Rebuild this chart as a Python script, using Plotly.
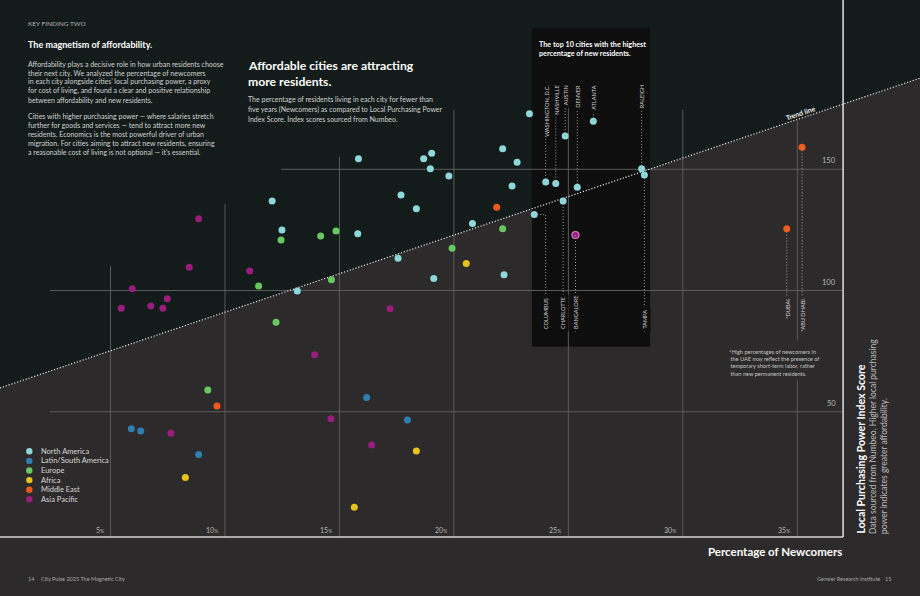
import plotly.graph_objects as go

W, H = 920, 596

# ---------------- data ----------------
regions = ["North America", "Latin/South America", "Europe", "Africa", "Middle East", "Asia Pacific"]
region_colors = ["#8ed8da", "#2e7fb0", "#67c862", "#e6c319", "#ef5a1c", "#9a1c7d"]

na_x = [12.06, 12.49, 13.16, 15.83, 15.80, 17.56, 17.69, 18.36, 18.68, 19.03, 18.97, 19.78, 19.12, 20.81,
        22.13, 22.19, 22.76, 22.54, 23.30, 23.51, 24.01, 24.45, 24.86, 24.77, 25.39, 26.09, 28.20, 28.32]
na_y = [136.9, 125.0, 99.8, 154.4, 123.4, 113.3, 139.4, 133.7, 154.4, 156.6, 150.2, 147.2, 105.0, 127.6,
        158.5, 106.5, 152.9, 143.1, 172.9, 131.3, 144.8, 144.1, 163.7, 136.9, 142.6, 169.8, 150.2, 147.6]
na_names = ["", "", "", "", "", "", "", "", "", "", "", "", "", "",
            "", "", "", "", "", "COLUMBUS", "WASHINGTON, D.C.", "NASHVILLE", "AUSTIN", "CHARLOTTE",
            "DENVER", "ATLANTA", "RALEIGH", "TAMPA"]

la_x = [5.91, 6.32, 8.85, 16.19, 17.97]
la_y = [43.0, 42.0, 32.3, 55.9, 46.6]
la_names = ["", "", "", "", ""]

eu_x = [9.25, 11.47, 12.23, 12.45, 14.18, 14.85, 14.65, 19.92, 22.13]
eu_y = [59.0, 101.9, 86.9, 120.8, 122.5, 124.5, 104.4, 117.4, 125.5]
eu_names = [""] * 9

af_x = [8.27, 15.65, 18.36, 20.54]
af_y = [22.9, 10.6, 33.8, 111.1]
af_names = ["", "", "", ""]

me_x = [9.65, 21.87, 34.54, 35.21]
me_y = [52.4, 134.3, 125.5, 159.1]
me_names = ["", "", "*DUBAI", "*ABU DHABI"]

ap_x = [5.47, 5.95, 6.76, 7.29, 7.48, 8.44, 8.85, 11.08, 13.92, 14.63, 16.41, 17.21, 7.64, 25.31]
ap_y = [92.7, 100.7, 93.6, 92.7, 96.6, 109.6, 129.6, 108.0, 73.5, 47.1, 36.3, 92.5, 41.1, 122.9]
ap_names = ["", "", "", "", "", "", "", "", "", "", "", "", "", "BANGALORE"]

series_x = [na_x, la_x, eu_x, af_x, me_x, ap_x]
series_y = [na_y, la_y, eu_y, af_y, me_y, ap_y]
series_names = [na_names, la_names, eu_names, af_names, me_names, ap_names]

trend_intercept = 59.25
trend_slope = 3.18

x_ticks = [5, 10, 15, 20, 25, 30, 35]
x_tick_labels = ["5", "10", "15", "20", "25", "30", "35"]
y_ticks = [50, 100, 150]
y_tick_labels = ["50", "100", "150"]

top_labels = ["WASHINGTON, D.C.", "NASHVILLE", "AUSTIN", "DENVER", "ATLANTA", "RALEIGH"]
bottom_labels = ["COLUMBUS", "CHARLOTTE", "BANGALORE", "TAMPA"]
uae_labels = ["*DUBAI", "*ABU DHABI"]

# ---------------- layout constants ----------------
X_RANGE = [0.173, 40.36]
Y_RANGE = [-26.03, 219.84]
AXIS_X_END = 37.0
AXIS_Y_BASE = -1.7
BOX = dict(x0=23.41, x1=28.57, y0=76.8, y1=208.4)
LABEL_TOP_Y = 186.0
LABEL_BOTTOM_Y = 82.9
UAE_LABEL_TOP_Y = 97.3
COLUMBUS_LABEL_X = 24.01
vgrid_top = {5: 110.1, 10: 135.7, 15: 155.2, 20: 174.5, 25: 175.2, 30: 174.5, 35: 170.0}
hgrid_start = {50: 2.36, 100: 2.36, 150: 12.45}
GAP35 = (63.0, 79.5)

GREEN_BG = "#131c1a"
GRAY_BG = "#2d2a2b"
BOX_BG = "#0e0e0e"
GRID = "#5a5a5a"
FONT = "Lato"


def px(p):
    return p / W


def py(p):
    return 1 - p / H


def trend(x):
    return trend_intercept + trend_slope * x


fig = go.Figure()

shapes = []
x0, x1 = X_RANGE
y_top = Y_RANGE[1]
shapes.append(dict(type="path", xref="x", yref="y", layer="below",
                   path=f"M {x0},{y_top} L {x1},{y_top} L {x1},{trend(x1)} L {x0},{trend(x0)} Z",
                   fillcolor=GREEN_BG, line=dict(width=0)))
shapes.append(dict(type="rect", xref="x", yref="y", layer="below", fillcolor=BOX_BG, line=dict(width=0), **BOX))
for t in x_ticks:
    if t == 35:
        shapes.append(dict(type="line", xref="x", yref="y", layer="below", x0=t, x1=t, y0=vgrid_top[t], y1=GAP35[1],
                           line=dict(color=GRID, width=1)))
        shapes.append(dict(type="line", xref="x", yref="y", layer="below", x0=t, x1=t, y0=GAP35[0], y1=AXIS_Y_BASE,
                           line=dict(color=GRID, width=1)))
    else:
        shapes.append(dict(type="line", xref="x", yref="y", layer="below", x0=t, x1=t, y0=vgrid_top[t], y1=AXIS_Y_BASE,
                           line=dict(color=GRID, width=1)))
for t in y_ticks:
    shapes.append(dict(type="line", xref="x", yref="y", layer="below", x0=hgrid_start[t], x1=AXIS_X_END, y0=t, y1=t,
                       line=dict(color=GRID, width=1)))
shapes.append(dict(type="line", xref="x", yref="y", layer="below", x0=X_RANGE[0], x1=AXIS_X_END,
                   y0=AXIS_Y_BASE, y1=AXIS_Y_BASE, line=dict(color="#d6d6d6", width=1.6)))
shapes.append(dict(type="line", xref="x", yref="y", layer="below", x0=AXIS_X_END, x1=AXIS_X_END,
                   y0=AXIS_Y_BASE, y1=Y_RANGE[1], line=dict(color="#d6d6d6", width=1.6)))

annotations = []

lead = dict(color="#a0a0a0", width=1, dash="1px,2px")
lab_font = dict(family=FONT, size=5.6, color="#d0d0d0")
for xs, ys, names in zip(series_x, series_y, series_names):
    for x, y, n in zip(xs, ys, names):
        if not n:
            continue
        if n in top_labels:
            shapes.append(dict(type="line", xref="x", yref="y", x0=x, x1=x, y0=y, y1=LABEL_TOP_Y, line=lead))
            annotations.append(dict(x=x, y=LABEL_TOP_Y, xref="x", yref="y", text=n, showarrow=False, textangle=-90,
                                    xanchor="center", yanchor="top", bgcolor=BOX_BG, borderpad=2, font=lab_font))
        elif n in bottom_labels:
            lx = COLUMBUS_LABEL_X if n == "COLUMBUS" else x
            shapes.append(dict(type="path", xref="x", yref="y",
                               path=f"M {x},{y} L {lx},{y} L {lx},{LABEL_BOTTOM_Y}", line=lead))
            annotations.append(dict(x=lx, y=LABEL_BOTTOM_Y, xref="x", yref="y", text=n, showarrow=False, textangle=-90,
                                    xanchor="center", yanchor="bottom", bgcolor=BOX_BG, borderpad=2, font=lab_font))
        elif n in uae_labels:
            shapes.append(dict(type="line", xref="x", yref="y", x0=x, x1=x, y0=y, y1=UAE_LABEL_TOP_Y, line=lead))
            annotations.append(dict(x=x, y=UAE_LABEL_TOP_Y, xref="x", yref="y", text=n, showarrow=False, textangle=-90,
                                    xanchor="center", yanchor="top", borderpad=1, font=lab_font))

fig.add_trace(go.Scatter(x=X_RANGE, y=[trend(X_RANGE[0]), trend(X_RANGE[1])], mode="lines",
                         line=dict(color="#e8e8e8", width=1.2, dash="1.2px,1.8px"), hoverinfo="skip",
                         showlegend=False, name="Trend line"))

for reg, col, xs, ys, names in zip(regions, region_colors, series_x, series_y, series_names):
    lw = [1.2 if n == "BANGALORE" else 0 for n in names]
    fig.add_trace(go.Scatter(x=xs, y=ys, mode="markers", name=reg, text=names, showlegend=False,
                             marker=dict(size=7, color=col, line=dict(width=lw, color="#e07cc4")),
                             hovertemplate="%{x:.1f}%, %{y:.1f}<extra>" + reg + "</extra>"))

annotations.append(dict(x=35.12, y=173.4, xref="x", yref="y", text="<b>Trend line</b>", showarrow=False,
                        textangle=-18.6, font=dict(family=FONT, size=7, color="#f0f0f0")))

for t, lab in zip(x_ticks, x_tick_labels):
    annotations.append(dict(x=t, y=1.2, xref="x", yref="y", xanchor="right", yanchor="middle", xshift=-5,
                            text=lab + "<span style='font-size:5px'>%</span>", showarrow=False,
                            font=dict(family=FONT, size=7, color="#b8b8b8")))
for t, lab in zip(y_ticks, y_tick_labels):
    annotations.append(dict(x=AXIS_X_END, y=t, xref="x", yref="y", xanchor="right", yanchor="bottom", xshift=-5,
                            yshift=2, text=lab, showarrow=False, font=dict(family=FONT, size=7.5, color="#b8b8b8")))


def text(x, y, s, size, color="#d4d4d4", bold=False, xanchor="left", yanchor="middle", angle=0, family=FONT,
         align="left"):
    annotations.append(dict(x=px(x), y=py(y), xref="paper", yref="paper", text=f"<b>{s}</b>" if bold else s,
                            showarrow=False, xanchor=xanchor, yanchor=yanchor, textangle=angle, align=align,
                            borderpad=0, font=dict(family=family, size=size, color=color)))


text(27, 24, "KEY FINDING TWO", 6.5, "#b4b4b4")
text(27, 44, "The magnetism of affordability.", 9, "#ffffff", bold=True)
p1 = ["Affordability plays a decisive role in how urban residents choose",
      "their next city. We analyzed the percentage of newcomers",
      "in each city alongside cities\u2019 local purchasing power, a proxy",
      "for cost of living, and found a clear and positive relationship",
      "between affordability and new residents."]
for i, s in enumerate(p1):
    text(27, 64 + 9 * i, s, 7, "#d2d2d2")
p2 = ["Cities with higher purchasing power \u2014 where salaries stretch",
      "further for goods and services \u2014 tend to attract more new",
      "residents. Economics is the most powerful driver of urban",
      "migration. For cities aiming to attract new residents, ensuring",
      "a reasonable cost of living is not optional \u2014 it\u2019s essential."]
for i, s in enumerate(p2):
    text(27, 116.3 + 9 * i, s, 7, "#d2d2d2")

text(247, 65.8, "Affordable cities are attracting", 12.2, "#ffffff", bold=True)
text(247, 81.0, "more residents.", 12.2, "#ffffff", bold=True)
sub = ["The percentage of residents living in each city for fewer than",
       "five years (Newcomers) as compared to Local Purchasing Power",
       "Index Score. Index scores sourced from Numbeo."]
for i, s in enumerate(sub):
    text(247, 99.3 + 9.8 * i, s, 7, "#d2d2d2")

text(538, 44, "The top 10 cities with the highest", 7.2, "#ffffff", bold=True)
text(538, 53, "percentage of new residents.", 7.2, "#ffffff", bold=True)

foot = ["*High percentages of newcomers in", "&nbsp;the UAE may reflect the presence of",
        "&nbsp;temporary short-term labor, rather", "&nbsp;than new permanent residents."]
for i, s in enumerate(foot):
    text(728, 351 + 7.4 * i, s, 5.6, "#c4c4c4")

leg_y0 = 451.3
for i, (reg, col) in enumerate(zip(regions, region_colors)):
    yy = leg_y0 + 9.6 * i
    shapes.append(dict(type="circle", xref="paper", yref="paper", xsizemode="pixel", ysizemode="pixel",
                       xanchor=px(29.3), yanchor=py(yy), x0=-3.2, x1=3.2, y0=-3.2, y1=3.2,
                       fillcolor=col, line=dict(width=0)))
    text(40, yy, reg, 7.5, "#d8d8d8")

text(843, 551, "Percentage of Newcomers", 11.5, "#ffffff", bold=True, xanchor="right")
text(860, 535, "Local Purchasing Power Index Score", 10.6, "#ffffff", bold=True, yanchor="bottom",
     xanchor="center", angle=-90)
text(878.5, 535, "Data sourced from Numbeo. Higher local purchasing<br>power indicates greater affordability.", 8.5,
     "#bcbcbc", yanchor="bottom", xanchor="center", angle=-90)

text(27, 579, "14", 5.5, "#a8a8a8")
text(40, 579, "City Pulse 2025 The Magnetic City", 5.5, "#a8a8a8")
text(881, 579, "Gensler Research Institute", 5.5, "#a8a8a8", xanchor="right")
text(892, 579, "15", 5.5, "#a8a8a8", xanchor="right")

fig.update_layout(
    width=W, height=H, margin=dict(l=0, r=0, t=0, b=0),
    paper_bgcolor=GRAY_BG, plot_bgcolor="rgba(0,0,0,0)",
    xaxis=dict(range=X_RANGE, visible=False, fixedrange=True),
    yaxis=dict(range=Y_RANGE, visible=False, fixedrange=True),
    shapes=shapes, annotations=annotations, showlegend=False,
    font=dict(family=FONT),
)

fig.write_html("out.html")
